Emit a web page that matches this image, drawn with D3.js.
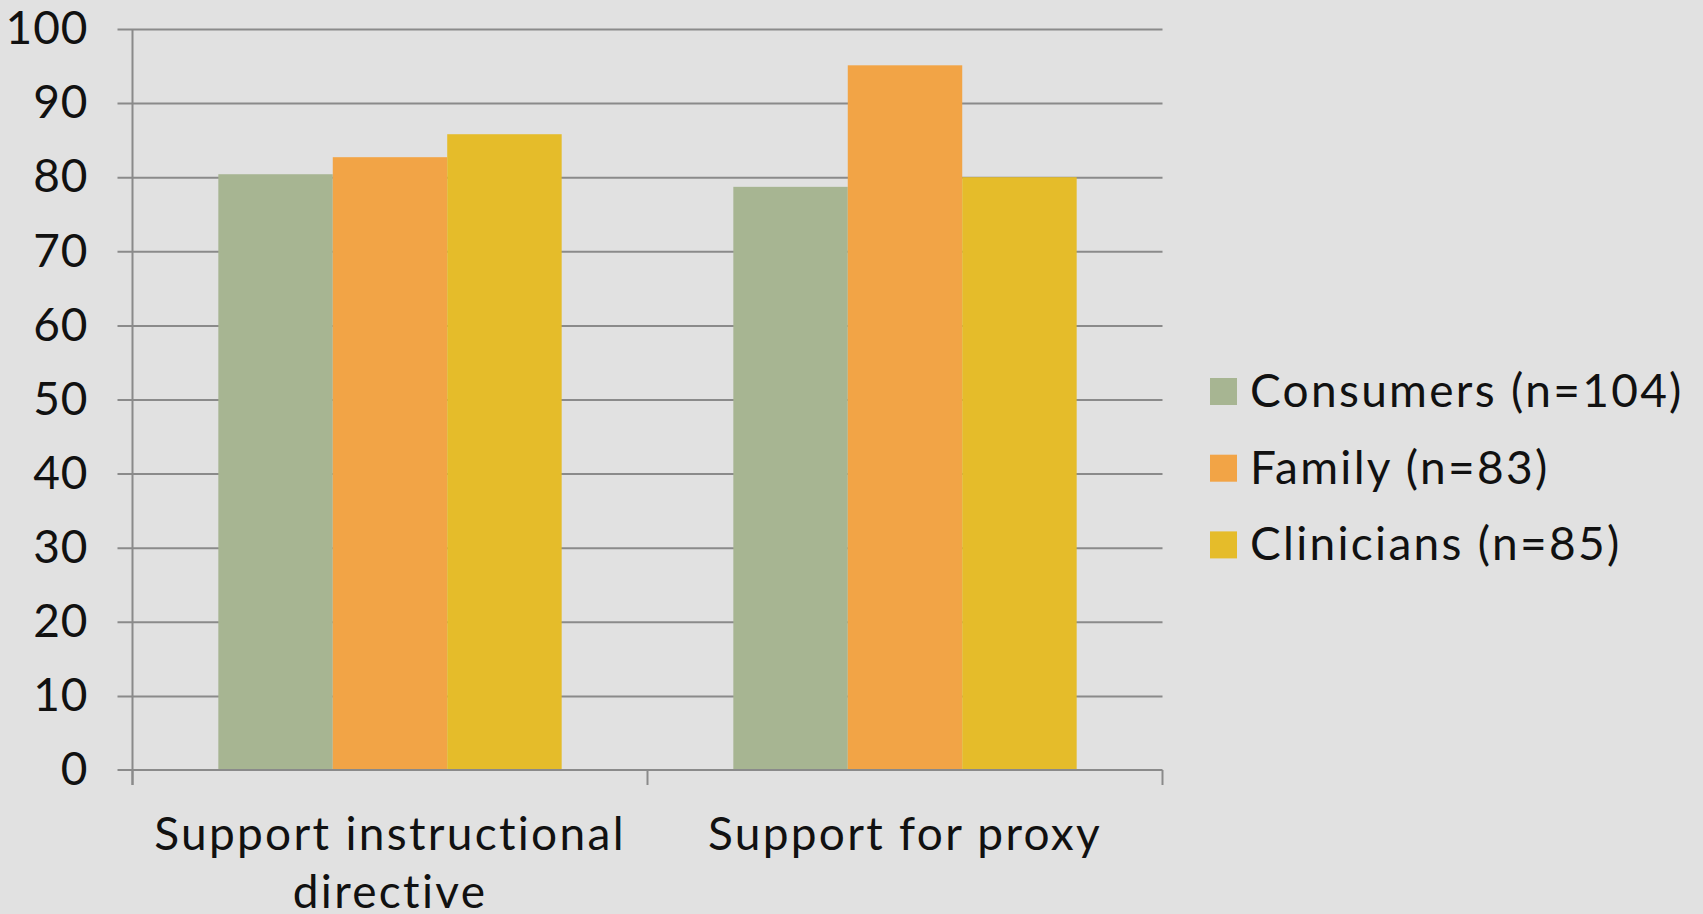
<!DOCTYPE html>
<html>
<head>
<meta charset="utf-8">
<script src="https://cdn.jsdelivr.net/npm/d3@7"></script>
<style>
  body { margin: 0; background: #e1e1e1; }
  svg { display: block; }
  text { font-family: "Lato", "DejaVu Sans", sans-serif; fill: #111; letter-spacing: 2.3px; }
</style>
</head>
<body>
<div id="chart"></div>
<script>
// data
var categories = ["Support instructional directive", "Support for proxy"];
var categoryLines = [["Support instructional", "directive"], ["Support for proxy"]];
var seriesNames = ["Consumers (n=104)", "Family (n=83)", "Clinicians (n=85)"];
var consumers = [80.4, 78.7];
var family = [82.7, 95.1];
var clinicians = [85.8, 80.0];
var yTicks = [0, 10, 20, 30, 40, 50, 60, 70, 80, 90, 100];

var seriesValues = [consumers, family, clinicians];
var colors = ["#a7b592", "#f2a446", "#e5bc2a"];

var W = 1703, H = 914;
// plot area edges
var plotLeft = 132.5, plotRight = 1162.5, plotTop = 29, plotBottom = 770;

var svg = d3.select("#chart").append("svg")
    .attr("width", W)
    .attr("height", H);

svg.append("rect")
    .attr("width", W)
    .attr("height", H)
    .attr("fill", "#e1e1e1");

// scales
var x0 = d3.scaleBand()
    .domain(categories)
    .range([plotLeft, plotRight])
    .padding(0);

var x1 = d3.scaleBand()
    .domain(seriesNames)
    .range([0, x0.bandwidth()])
    .paddingInner(0)
    .paddingOuter(0.75);

var y = d3.scaleLinear()
    .domain([0, 100])
    .range([plotBottom, plotTop]);

var color = d3.scaleOrdinal().domain(seriesNames).range(colors);

// gridlines (they run through the tick marks left of the axis)
var grid = svg.append("g")
    .attr("transform", `translate(${plotLeft - 15}, 0)`)
    .call(d3.axisLeft(y).tickValues(yTicks.slice(1)).tickSize(-(plotRight - plotLeft + 15)).tickFormat(""));
grid.select(".domain").remove();
grid.selectAll("line").attr("stroke", "#8a8a8a").attr("stroke-width", 2);

// bars
var rows = categories.map((c, i) => ({ cat: c, vals: seriesNames.map((s, j) => ({ s: s, v: seriesValues[j][i] })) }));

svg.selectAll(".grp")
    .data(rows)
    .enter()
    .append("g")
    .attr("class", "grp")
    .attr("transform", d => `translate(${x0(d.cat)}, 0)`)
    .selectAll("rect")
    .data(d => d.vals)
    .enter()
    .append("rect")
    .attr("x", d => x1(d.s))
    .attr("width", x1.bandwidth())
    .attr("y", d => y(d.v))
    .attr("height", d => y(0) - y(d.v))
    .attr("fill", d => color(d.s));

// y axis
var yAxis = svg.append("g")
    .attr("transform", `translate(${plotLeft}, 0)`)
    .call(d3.axisLeft(y).tickValues(yTicks).tickSize(0).tickPadding(44));
yAxis.select(".domain").attr("stroke", "#8a8a8a").attr("stroke-width", 2)
    .attr("d", `M0,${plotTop}V${plotBottom + 15}`);
yAxis.selectAll("text")
    .style("font-family", "Lato, sans-serif")
    .style("font-size", "46px")
    .style("letter-spacing", "1px")
    .attr("fill", "#111");

// zero tick on y axis
svg.append("line")
    .attr("x1", plotLeft - 15).attr("x2", plotLeft)
    .attr("y1", y(0)).attr("y2", y(0))
    .attr("stroke", "#8a8a8a").attr("stroke-width", 2);

// x axis
var xAxis = svg.append("g")
    .attr("transform", `translate(0, ${plotBottom})`)
    .call(d3.axisBottom(x0).tickSize(0).tickFormat(""));
xAxis.select(".domain").attr("stroke", "#8a8a8a").attr("stroke-width", 2)
    .attr("d", `M${plotLeft},0H${plotRight}`);

// category boundary ticks
var bounds = [plotLeft].concat(categories.map(c => x0(c) + x0.bandwidth()));
xAxis.selectAll(".bound")
    .data(bounds)
    .enter()
    .append("line")
    .attr("class", "bound")
    .attr("x1", d => d).attr("x2", d => d)
    .attr("y1", 0).attr("y2", 15)
    .attr("stroke", "#8a8a8a").attr("stroke-width", 2);

// category labels
var catLab = svg.selectAll(".catlab")
    .data(categories)
    .enter()
    .append("text")
    .attr("class", "catlab")
    .attr("text-anchor", "middle")
    .style("font-size", "46px")
    .attr("transform", d => `translate(${x0(d) + x0.bandwidth() / 2}, 850)`);
catLab.selectAll("tspan")
    .data((d, i) => categoryLines[i])
    .enter()
    .append("tspan")
    .attr("x", 0)
    .attr("y", (d, i) => i * 58)
    .text(d => d);

// legend
var legend = svg.append("g")
    .attr("transform", "translate(1210, 378)");
var item = legend.selectAll(".item")
    .data(seriesNames)
    .enter()
    .append("g")
    .attr("class", "item")
    .attr("transform", (d, i) => `translate(0, ${i * 76.7})`);
item.append("rect")
    .attr("width", 27)
    .attr("height", 27)
    .attr("fill", d => color(d));
item.append("text")
    .attr("x", 40)
    .attr("y", 29)
    .style("font-size", "46px")
    .text(d => d);
</script>
</body>
</html>
